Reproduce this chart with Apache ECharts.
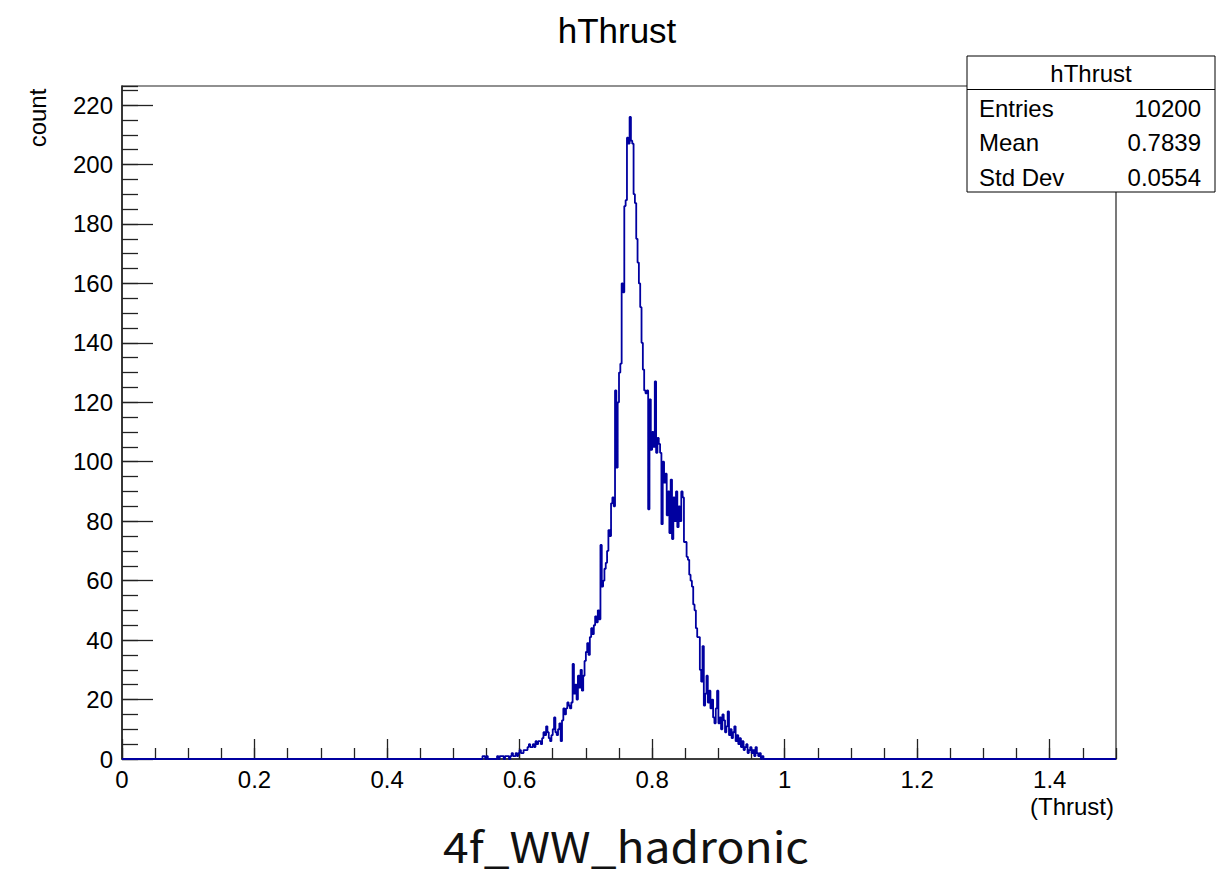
<!DOCTYPE html>
<html>
<head>
<meta charset="utf-8">
<script src="https://cdn.jsdelivr.net/npm/echarts@6/dist/echarts.min.js"></script>
<style>
html,body{margin:0;padding:0;background:#fff;}
#chart{width:1216px;height:877px;}
</style>
</head>
<body>
<div id="chart"></div>
<script>
// ---- data ----
const histTitle = 'hThrust';
const xAxisTitle = '(Thrust)';
const yAxisTitle = 'count';
const sampleLabel = '4f_WW_hadronic';
const xRange = [0, 1.5];
const yRange = [0, 226.4];
const binLow = 0.54;
const binWidth = 0.002;
const counts = [
  0,0,1,1,0,  1,0,0,0,0,  0,0,0,1,0,  1,1,1,0,1,  1,1,0,1,2,  1,1,2,1,2,
  3,2,2,3,3,  3,4,5,4,4,  5,4,6,5,6,  6,5,7,9,8,  11,9,7,6,8,  10,14,9,8,10,
  12,6,13,17,15,  17,19,18,17,19,  32,22,25,20,28,  24,30,23,28,33,
  36,39,35,41,44,  42,45,48,46,50,  47,72,58,60,64,  66,70,77,75,86,
  88,85,124,98,120,  130,133,160,157,186,  188,209,207,216,208,  207,190,187,175,167,
  160,152,140,131,124,  123,124,84,121,104,  110,105,127,103,108,  106,103,79,100,93,
  96,82,90,76,94,  74,88,80,90,78,  85,80,90,88,73,  73,68,67,62,60,
  58,52,50,44,41,  41,30,26,38,18,  22,28,19,23,17,  20,14,12,17,23,
  12,14,10,15,13,  9,11,16,8,10,  7,9,11,6,8,  5,7,4,6,3,
  4,5,2,3,4,  2,3,1,4,2,  1,2,0,1,0
];
const statsLabels = ['Entries', 'Mean', 'Std Dev'];
const statsValues = ['10200', '0.7839', '0.0554'];

// ---- build step data from bins ----
const stepData = [[xRange[0], 0]];
counts.forEach((c, i) => stepData.push([binLow + i * binWidth, c]));
stepData.push([binLow + counts.length * binWidth, 0]);
stepData.push([xRange[1], 0]);

const FONT = 'Liberation Sans, Arial, Helvetica, sans-serif';
const chart = echarts.init(document.getElementById('chart'), null, {renderer: 'svg'});

const statsGraphics = [
  {type: 'rect', shape: {x: 967, y: 56, width: 248, height: 136},
   style: {fill: '#fff', stroke: '#000', lineWidth: 1}, z: 100},
  {type: 'line', shape: {x1: 967, y1: 89.5, x2: 1215, y2: 89.5},
   style: {stroke: '#000', lineWidth: 1}, z: 101},
  {type: 'text', x: 1091, y: 73, z: 102,
   style: {text: histTitle, font: '24px ' + FONT, fill: '#000', textAlign: 'center', textVerticalAlign: 'middle'}}
];
const rowY = [108, 142.5, 177];
statsLabels.forEach((lab, i) => {
  statsGraphics.push({type: 'text', x: 979, y: rowY[i], z: 102,
    style: {text: lab, font: '24px ' + FONT, fill: '#000', textAlign: 'left', textVerticalAlign: 'middle'}});
  statsGraphics.push({type: 'text', x: 1201, y: rowY[i], z: 102,
    style: {text: statsValues[i], font: '24px ' + FONT, fill: '#000', textAlign: 'right', textVerticalAlign: 'middle'}});
});

const option = {
  animation: false,
  backgroundColor: '#fff',
  grid: {left: 122, right: 100, top: 86, bottom: 118, show: true,
         borderColor: '#222', borderWidth: 1.2, backgroundColor: 'transparent'},
  xAxis: [
    {type: 'value', min: xRange[0], max: xRange[1], interval: 0.2, position: 'bottom',
     axisLine: {show: true, onZero: false, lineStyle: {color: '#222', width: 1.5}},
     axisTick: {show: true, inside: true, length: 20, lineStyle: {color: '#222', width: 1.3}},
     axisLabel: {show: true, color: '#000', fontFamily: FONT, fontSize: 24, margin: 8,
                 showMaxLabel: false, formatter: v => String(+v.toFixed(1))},
     splitLine: {show: false}},
    {type: 'value', min: xRange[0], max: xRange[1], interval: 0.05, position: 'bottom',
     axisLine: {show: false},
     axisTick: {show: true, inside: true, length: 11, lineStyle: {color: '#222', width: 1.3}},
     axisLabel: {show: false}, splitLine: {show: false}}
  ],
  yAxis: [
    {type: 'value', min: yRange[0], max: yRange[1], interval: 20, position: 'left',
     axisLine: {show: true, onZero: false, lineStyle: {color: '#222', width: 1.5}},
     axisTick: {show: true, inside: true, length: 31, lineStyle: {color: '#222', width: 1.3}},
     axisLabel: {show: true, color: '#000', fontFamily: FONT, fontSize: 24, margin: 9,
                 showMaxLabel: false},
     splitLine: {show: false}},
    {type: 'value', min: yRange[0], max: yRange[1], interval: 5, position: 'left',
     axisLine: {show: false},
     axisTick: {show: true, inside: true, length: 16, lineStyle: {color: '#222', width: 1.3}},
     axisLabel: {show: false}, splitLine: {show: false}}
  ],
  series: [{
    type: 'line', xAxisIndex: 0, yAxisIndex: 0, step: 'end',
    data: stepData, showSymbol: false, symbol: 'none', clip: true,
    lineStyle: {color: '#0000a0', width: 1.8}
  }],
  graphic: [
    {type: 'text', x: 617, y: 30, style: {text: histTitle, font: '35px ' + FONT, fill: '#000',
      textAlign: 'center', textVerticalAlign: 'middle'}},
    {type: 'text', x: 37, y: 118, rotation: Math.PI / 2,
     style: {text: yAxisTitle, font: '24px ' + FONT, fill: '#000', textAlign: 'center', textVerticalAlign: 'middle'}},
    {type: 'text', x: 1114, y: 806, style: {text: xAxisTitle, font: '24px ' + FONT, fill: '#000',
      textAlign: 'right', textVerticalAlign: 'middle'}},
    {type: 'text', x: 626, y: 845, scaleX: 1.1, style: {text: sampleLabel, font: '42px "Noto Sans CJK JP", sans-serif', fill: '#111',
      textAlign: 'center', textVerticalAlign: 'middle'}}
  ].concat(statsGraphics)
};
chart.setOption(option);
</script>
</body>
</html>
